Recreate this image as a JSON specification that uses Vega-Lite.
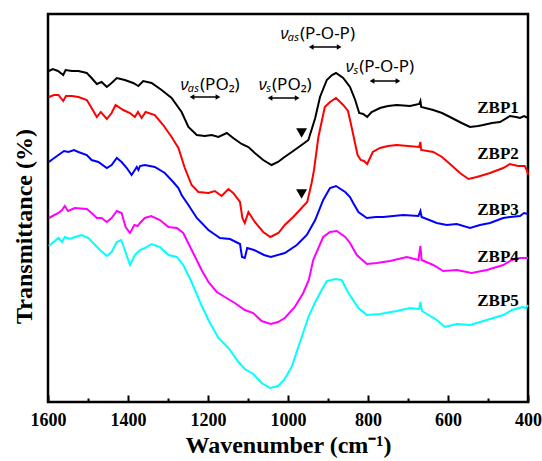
{
  "$schema": "https://vega.github.io/schema/vega-lite/v6.json",
  "width": 480,
  "height": 388,
  "autosize": {"type": "none"},
  "padding": {"left": 48, "top": 14, "right": 14, "bottom": 59},
  "background": "white",
  "config": {
    "view": {"stroke": "black", "strokeWidth": 2.5},
    "axis": {"grid": false, "domain": false}
  },
  "datasets": {
    "spectra": [
      {"s":"ZBP1","w":1598,"v":331},{"s":"ZBP1","w":1588,"v":333},{"s":"ZBP1","w":1575,"v":331},{"s":"ZBP1","w":1562,"v":327},{"s":"ZBP1","w":1556,"v":332},{"s":"ZBP1","w":1540,"v":331},{"s":"ZBP1","w":1524,"v":331},{"s":"ZBP1","w":1503,"v":329},{"s":"ZBP1","w":1491,"v":324},{"s":"ZBP1","w":1478,"v":318},{"s":"ZBP1","w":1466,"v":320},{"s":"ZBP1","w":1453,"v":315},{"s":"ZBP1","w":1441,"v":319},{"s":"ZBP1","w":1428,"v":324},{"s":"ZBP1","w":1408,"v":322},{"s":"ZBP1","w":1387,"v":319},{"s":"ZBP1","w":1374,"v":316},{"s":"ZBP1","w":1362,"v":321},{"s":"ZBP1","w":1341,"v":319},{"s":"ZBP1","w":1316,"v":312},{"s":"ZBP1","w":1291,"v":304},{"s":"ZBP1","w":1266,"v":290},{"s":"ZBP1","w":1249,"v":275},{"s":"ZBP1","w":1228,"v":267},{"s":"ZBP1","w":1208,"v":266},{"s":"ZBP1","w":1191,"v":267},{"s":"ZBP1","w":1174,"v":265},{"s":"ZBP1","w":1153,"v":269},{"s":"ZBP1","w":1137,"v":264},{"s":"ZBP1","w":1116,"v":258},{"s":"ZBP1","w":1099,"v":255},{"s":"ZBP1","w":1083,"v":249},{"s":"ZBP1","w":1062,"v":242},{"s":"ZBP1","w":1041,"v":237},{"s":"ZBP1","w":1025,"v":240},{"s":"ZBP1","w":1012,"v":244},{"s":"ZBP1","w":987,"v":251},{"s":"ZBP1","w":966,"v":257},{"s":"ZBP1","w":949,"v":262},{"s":"ZBP1","w":932,"v":284},{"s":"ZBP1","w":920,"v":305},{"s":"ZBP1","w":903,"v":322},{"s":"ZBP1","w":890,"v":327},{"s":"ZBP1","w":880,"v":329},{"s":"ZBP1","w":862,"v":324},{"s":"ZBP1","w":845,"v":315},{"s":"ZBP1","w":832,"v":302},{"s":"ZBP1","w":822,"v":289},{"s":"ZBP1","w":812,"v":288},{"s":"ZBP1","w":802,"v":285},{"s":"ZBP1","w":791,"v":290},{"s":"ZBP1","w":770,"v":294},{"s":"ZBP1","w":750,"v":296},{"s":"ZBP1","w":728,"v":297},{"s":"ZBP1","w":695,"v":296},{"s":"ZBP1","w":672,"v":298},{"s":"ZBP1","w":669,"v":301},{"s":"ZBP1","w":667,"v":295},{"s":"ZBP1","w":637,"v":292},{"s":"ZBP1","w":615,"v":289},{"s":"ZBP1","w":595,"v":285},{"s":"ZBP1","w":566,"v":279},{"s":"ZBP1","w":545,"v":275},{"s":"ZBP1","w":525,"v":276},{"s":"ZBP1","w":512,"v":277},{"s":"ZBP1","w":490,"v":279},{"s":"ZBP1","w":470,"v":280},{"s":"ZBP1","w":445,"v":286},{"s":"ZBP1","w":430,"v":285},{"s":"ZBP1","w":420,"v":284},{"s":"ZBP1","w":410,"v":286},{"s":"ZBP1","w":400,"v":284},
      {"s":"ZBP2","w":1598,"v":305},{"s":"ZBP2","w":1585,"v":307},{"s":"ZBP2","w":1574,"v":307},{"s":"ZBP2","w":1562,"v":301},{"s":"ZBP2","w":1555,"v":306},{"s":"ZBP2","w":1540,"v":306},{"s":"ZBP2","w":1524,"v":305},{"s":"ZBP2","w":1503,"v":302},{"s":"ZBP2","w":1491,"v":294},{"s":"ZBP2","w":1478,"v":285},{"s":"ZBP2","w":1468,"v":290},{"s":"ZBP2","w":1453,"v":283},{"s":"ZBP2","w":1441,"v":289},{"s":"ZBP2","w":1431,"v":297},{"s":"ZBP2","w":1412,"v":292},{"s":"ZBP2","w":1395,"v":289},{"s":"ZBP2","w":1383,"v":285},{"s":"ZBP2","w":1375,"v":290},{"s":"ZBP2","w":1366,"v":284},{"s":"ZBP2","w":1356,"v":290},{"s":"ZBP2","w":1333,"v":287},{"s":"ZBP2","w":1312,"v":277},{"s":"ZBP2","w":1291,"v":265},{"s":"ZBP2","w":1274,"v":254},{"s":"ZBP2","w":1258,"v":234},{"s":"ZBP2","w":1241,"v":217},{"s":"ZBP2","w":1224,"v":210},{"s":"ZBP2","w":1199,"v":209},{"s":"ZBP2","w":1183,"v":211},{"s":"ZBP2","w":1166,"v":206},{"s":"ZBP2","w":1149,"v":213},{"s":"ZBP2","w":1137,"v":209},{"s":"ZBP2","w":1120,"v":200},{"s":"ZBP2","w":1114,"v":184},{"s":"ZBP2","w":1108,"v":179},{"s":"ZBP2","w":1099,"v":190},{"s":"ZBP2","w":1083,"v":180},{"s":"ZBP2","w":1062,"v":170},{"s":"ZBP2","w":1044,"v":165},{"s":"ZBP2","w":1024,"v":169},{"s":"ZBP2","w":1008,"v":177},{"s":"ZBP2","w":987,"v":185},{"s":"ZBP2","w":966,"v":194},{"s":"ZBP2","w":952,"v":200},{"s":"ZBP2","w":941,"v":219},{"s":"ZBP2","w":935,"v":232},{"s":"ZBP2","w":924,"v":265},{"s":"ZBP2","w":908,"v":295},{"s":"ZBP2","w":895,"v":300},{"s":"ZBP2","w":880,"v":304},{"s":"ZBP2","w":862,"v":297},{"s":"ZBP2","w":850,"v":291},{"s":"ZBP2","w":841,"v":275},{"s":"ZBP2","w":832,"v":258},{"s":"ZBP2","w":826,"v":247},{"s":"ZBP2","w":818,"v":242},{"s":"ZBP2","w":810,"v":241},{"s":"ZBP2","w":802,"v":238},{"s":"ZBP2","w":795,"v":244},{"s":"ZBP2","w":788,"v":250},{"s":"ZBP2","w":770,"v":254},{"s":"ZBP2","w":750,"v":256},{"s":"ZBP2","w":728,"v":257},{"s":"ZBP2","w":700,"v":256},{"s":"ZBP2","w":672,"v":255},{"s":"ZBP2","w":669,"v":260},{"s":"ZBP2","w":667,"v":252},{"s":"ZBP2","w":637,"v":250},{"s":"ZBP2","w":615,"v":245},{"s":"ZBP2","w":595,"v":238},{"s":"ZBP2","w":570,"v":229},{"s":"ZBP2","w":549,"v":223},{"s":"ZBP2","w":528,"v":225},{"s":"ZBP2","w":503,"v":228},{"s":"ZBP2","w":495,"v":229},{"s":"ZBP2","w":462,"v":234},{"s":"ZBP2","w":445,"v":238},{"s":"ZBP2","w":425,"v":236},{"s":"ZBP2","w":408,"v":236},{"s":"ZBP2","w":402,"v":231},{"s":"ZBP2","w":400,"v":227},
      {"s":"ZBP3","w":1598,"v":240},{"s":"ZBP3","w":1574,"v":247},{"s":"ZBP3","w":1560,"v":251},{"s":"ZBP3","w":1549,"v":250},{"s":"ZBP3","w":1535,"v":252},{"s":"ZBP3","w":1524,"v":250},{"s":"ZBP3","w":1503,"v":247},{"s":"ZBP3","w":1491,"v":242},{"s":"ZBP3","w":1474,"v":240},{"s":"ZBP3","w":1453,"v":234},{"s":"ZBP3","w":1441,"v":237},{"s":"ZBP3","w":1428,"v":244},{"s":"ZBP3","w":1416,"v":240},{"s":"ZBP3","w":1403,"v":234},{"s":"ZBP3","w":1391,"v":227},{"s":"ZBP3","w":1378,"v":235},{"s":"ZBP3","w":1374,"v":232},{"s":"ZBP3","w":1370,"v":236},{"s":"ZBP3","w":1358,"v":237},{"s":"ZBP3","w":1333,"v":235},{"s":"ZBP3","w":1308,"v":229},{"s":"ZBP3","w":1287,"v":220},{"s":"ZBP3","w":1274,"v":214},{"s":"ZBP3","w":1266,"v":207},{"s":"ZBP3","w":1249,"v":197},{"s":"ZBP3","w":1228,"v":184},{"s":"ZBP3","w":1199,"v":172},{"s":"ZBP3","w":1170,"v":164},{"s":"ZBP3","w":1145,"v":163},{"s":"ZBP3","w":1120,"v":158},{"s":"ZBP3","w":1115,"v":145},{"s":"ZBP3","w":1108,"v":144},{"s":"ZBP3","w":1102,"v":154},{"s":"ZBP3","w":1085,"v":152},{"s":"ZBP3","w":1060,"v":147},{"s":"ZBP3","w":1043,"v":145},{"s":"ZBP3","w":1008,"v":149},{"s":"ZBP3","w":978,"v":157},{"s":"ZBP3","w":953,"v":167},{"s":"ZBP3","w":932,"v":182},{"s":"ZBP3","w":912,"v":202},{"s":"ZBP3","w":895,"v":214},{"s":"ZBP3","w":880,"v":216},{"s":"ZBP3","w":857,"v":210},{"s":"ZBP3","w":845,"v":205},{"s":"ZBP3","w":837,"v":199},{"s":"ZBP3","w":824,"v":190},{"s":"ZBP3","w":803,"v":184},{"s":"ZBP3","w":780,"v":185},{"s":"ZBP3","w":762,"v":185},{"s":"ZBP3","w":712,"v":187},{"s":"ZBP3","w":674,"v":186},{"s":"ZBP3","w":669,"v":191},{"s":"ZBP3","w":666,"v":185},{"s":"ZBP3","w":628,"v":179},{"s":"ZBP3","w":603,"v":177},{"s":"ZBP3","w":578,"v":178},{"s":"ZBP3","w":545,"v":174},{"s":"ZBP3","w":520,"v":177},{"s":"ZBP3","w":495,"v":179},{"s":"ZBP3","w":462,"v":184},{"s":"ZBP3","w":445,"v":185},{"s":"ZBP3","w":420,"v":186},{"s":"ZBP3","w":410,"v":189},{"s":"ZBP3","w":400,"v":188},
      {"s":"ZBP4","w":1598,"v":184},{"s":"ZBP4","w":1574,"v":189},{"s":"ZBP4","w":1565,"v":192},{"s":"ZBP4","w":1558,"v":196},{"s":"ZBP4","w":1550,"v":191},{"s":"ZBP4","w":1533,"v":194},{"s":"ZBP4","w":1503,"v":193},{"s":"ZBP4","w":1491,"v":189},{"s":"ZBP4","w":1478,"v":184},{"s":"ZBP4","w":1466,"v":184},{"s":"ZBP4","w":1453,"v":180},{"s":"ZBP4","w":1441,"v":184},{"s":"ZBP4","w":1428,"v":191},{"s":"ZBP4","w":1416,"v":189},{"s":"ZBP4","w":1406,"v":175},{"s":"ZBP4","w":1395,"v":169},{"s":"ZBP4","w":1384,"v":177},{"s":"ZBP4","w":1376,"v":176},{"s":"ZBP4","w":1370,"v":179},{"s":"ZBP4","w":1358,"v":184},{"s":"ZBP4","w":1342,"v":186},{"s":"ZBP4","w":1320,"v":182},{"s":"ZBP4","w":1299,"v":175},{"s":"ZBP4","w":1278,"v":174},{"s":"ZBP4","w":1262,"v":169},{"s":"ZBP4","w":1237,"v":149},{"s":"ZBP4","w":1216,"v":132},{"s":"ZBP4","w":1199,"v":120},{"s":"ZBP4","w":1178,"v":110},{"s":"ZBP4","w":1158,"v":105},{"s":"ZBP4","w":1133,"v":99},{"s":"ZBP4","w":1108,"v":92},{"s":"ZBP4","w":1087,"v":89},{"s":"ZBP4","w":1066,"v":81},{"s":"ZBP4","w":1043,"v":78},{"s":"ZBP4","w":1025,"v":80},{"s":"ZBP4","w":1008,"v":84},{"s":"ZBP4","w":983,"v":95},{"s":"ZBP4","w":962,"v":109},{"s":"ZBP4","w":948,"v":122},{"s":"ZBP4","w":937,"v":142},{"s":"ZBP4","w":912,"v":165},{"s":"ZBP4","w":895,"v":170},{"s":"ZBP4","w":878,"v":171},{"s":"ZBP4","w":857,"v":165},{"s":"ZBP4","w":845,"v":159},{"s":"ZBP4","w":828,"v":147},{"s":"ZBP4","w":803,"v":138},{"s":"ZBP4","w":778,"v":139},{"s":"ZBP4","w":745,"v":141},{"s":"ZBP4","w":703,"v":145},{"s":"ZBP4","w":674,"v":142},{"s":"ZBP4","w":669,"v":156},{"s":"ZBP4","w":666,"v":142},{"s":"ZBP4","w":637,"v":137},{"s":"ZBP4","w":612,"v":131},{"s":"ZBP4","w":578,"v":132},{"s":"ZBP4","w":541,"v":129},{"s":"ZBP4","w":503,"v":132},{"s":"ZBP4","w":462,"v":137},{"s":"ZBP4","w":440,"v":142},{"s":"ZBP4","w":420,"v":144},{"s":"ZBP4","w":400,"v":144},
      {"s":"ZBP5","w":1598,"v":156},{"s":"ZBP5","w":1574,"v":164},{"s":"ZBP5","w":1565,"v":160},{"s":"ZBP5","w":1558,"v":165},{"s":"ZBP5","w":1545,"v":163},{"s":"ZBP5","w":1533,"v":165},{"s":"ZBP5","w":1516,"v":167},{"s":"ZBP5","w":1499,"v":164},{"s":"ZBP5","w":1487,"v":159},{"s":"ZBP5","w":1470,"v":152},{"s":"ZBP5","w":1453,"v":146},{"s":"ZBP5","w":1441,"v":150},{"s":"ZBP5","w":1428,"v":160},{"s":"ZBP5","w":1417,"v":162},{"s":"ZBP5","w":1408,"v":152},{"s":"ZBP5","w":1395,"v":137},{"s":"ZBP5","w":1383,"v":147},{"s":"ZBP5","w":1370,"v":152},{"s":"ZBP5","w":1358,"v":154},{"s":"ZBP5","w":1341,"v":158},{"s":"ZBP5","w":1320,"v":155},{"s":"ZBP5","w":1299,"v":147},{"s":"ZBP5","w":1278,"v":145},{"s":"ZBP5","w":1262,"v":137},{"s":"ZBP5","w":1241,"v":120},{"s":"ZBP5","w":1220,"v":100},{"s":"ZBP5","w":1199,"v":82},{"s":"ZBP5","w":1174,"v":64},{"s":"ZBP5","w":1149,"v":54},{"s":"ZBP5","w":1124,"v":40},{"s":"ZBP5","w":1108,"v":33},{"s":"ZBP5","w":1087,"v":28},{"s":"ZBP5","w":1066,"v":19},{"s":"ZBP5","w":1045,"v":14},{"s":"ZBP5","w":1025,"v":16},{"s":"ZBP5","w":1010,"v":22},{"s":"ZBP5","w":991,"v":35},{"s":"ZBP5","w":970,"v":60},{"s":"ZBP5","w":949,"v":85},{"s":"ZBP5","w":933,"v":99},{"s":"ZBP5","w":916,"v":112},{"s":"ZBP5","w":903,"v":121},{"s":"ZBP5","w":882,"v":123},{"s":"ZBP5","w":866,"v":122},{"s":"ZBP5","w":849,"v":109},{"s":"ZBP5","w":824,"v":94},{"s":"ZBP5","w":803,"v":87},{"s":"ZBP5","w":770,"v":88},{"s":"ZBP5","w":728,"v":91},{"s":"ZBP5","w":695,"v":94},{"s":"ZBP5","w":672,"v":93},{"s":"ZBP5","w":669,"v":100},{"s":"ZBP5","w":665,"v":91},{"s":"ZBP5","w":628,"v":82},{"s":"ZBP5","w":608,"v":75},{"s":"ZBP5","w":578,"v":78},{"s":"ZBP5","w":545,"v":77},{"s":"ZBP5","w":503,"v":82},{"s":"ZBP5","w":462,"v":87},{"s":"ZBP5","w":440,"v":92},{"s":"ZBP5","w":415,"v":95},{"s":"ZBP5","w":405,"v":94},{"s":"ZBP5","w":400,"v":97}
    ],
    "labels": [
      {"w": 527, "v": 294, "t": "ZBP1"},
      {"w": 527, "v": 248, "t": "ZBP2"},
      {"w": 527, "v": 192, "t": "ZBP3"},
      {"w": 527, "v": 145, "t": "ZBP4"},
      {"w": 527, "v": 101, "t": "ZBP5"}
    ],
    "ann": [
      {"w": 1220, "v": 317, "a": "νₐₛ", "b": "(PO₂)"},
      {"w": 1040, "v": 317, "a": "νₛ", "b": "(PO₂)"},
      {"w": 970, "v": 368, "a": "νₐₛ", "b": "(P-O-P)"},
      {"w": 822, "v": 335, "a": "νₛ", "b": "(P-O-P)"}
    ],
    "arrows": [
      {"w1": 1240, "w2": 1175, "v": 305},
      {"w1": 1045, "w2": 977, "v": 304},
      {"w1": 942, "w2": 872, "v": 355},
      {"w1": 790, "w2": 725, "v": 321}
    ],
    "marks": [
      {"w": 966, "v": 269},
      {"w": 966, "v": 208}
    ]
  },
  "layer": [
    {
      "data": {"name": "spectra"},
      "mark": {"type": "line", "strokeWidth": 2},
      "encoding": {
        "x": {"field": "w", "type": "quantitative",
          "scale": {"domain": [400, 1600], "reverse": true, "nice": false, "zero": false},
          "axis": {"orient": "bottom", "values": [1600, 1400, 1200, 1000, 800, 600, 400], "format": "d",
            "title": "Wavenumber (cm⁻¹)", "tickSize": -7, "tickWidth": 2, "tickColor": "black",
            "labelFont": "Liberation Serif", "labelFontSize": 18, "labelFontWeight": "bold", "labelColor": "black",
            "labelPadding": 16, "labelFlush": false,
            "titleFont": "Liberation Serif", "titleFontSize": 24, "titleFontWeight": "bold", "titleColor": "black", "titlePadding": 4}},
        "y": {"field": "v", "type": "quantitative",
          "scale": {"domain": [0, 388], "nice": false, "zero": false},
          "axis": {"orient": "left", "title": "Transmittance (%)", "labels": false, "ticks": false,
            "titleFont": "Liberation Serif", "titleFontSize": 24, "titleFontWeight": "bold", "titleColor": "black", "titlePadding": 12, "titleY": 212}},
        "color": {"field": "s", "type": "nominal", "legend": null,
          "scale": {"domain": ["ZBP1", "ZBP2", "ZBP3", "ZBP4", "ZBP5"], "range": ["#000000", "#ff0000", "#0000ff", "#ff00ff", "#00ffff"]}},
        "order": {"field": "w", "type": "quantitative", "sort": "descending"}
      }
    },
    {
      "data": {"name": "labels"},
      "mark": {"type": "text", "align": "left", "baseline": "middle", "font": "Liberation Serif", "fontSize": 17, "fontWeight": "bold", "color": "black"},
      "encoding": {
        "x": {"field": "w", "type": "quantitative",
          "axis": {"orient": "bottom", "values": [1500, 1300, 1100, 900, 700, 500], "labels": false, "title": null, "tickSize": -4, "tickWidth": 2, "tickColor": "black"}},
        "y": {"field": "v", "type": "quantitative", "axis": null},
        "text": {"field": "t"}
      }
    },
    {
      "data": {"name": "arrows"},
      "mark": {"type": "rule", "strokeWidth": 1.5, "color": "black"},
      "encoding": {
        "x": {"field": "w1", "type": "quantitative", "axis": null},
        "x2": {"field": "w2"},
        "y": {"field": "v", "type": "quantitative", "axis": null}
      }
    },
    {
      "data": {"name": "arrows"},
      "transform": [{"fold": ["w1", "w2"], "as": ["end", "we"]}],
      "mark": {"type": "point", "filled": true, "size": 30, "opacity": 1, "color": "black"},
      "encoding": {
        "x": {"field": "we", "type": "quantitative", "axis": null},
        "y": {"field": "v", "type": "quantitative", "axis": null},
        "shape": {"field": "end", "type": "nominal", "legend": null,
          "scale": {"domain": ["w1", "w2"], "range": ["triangle-left", "triangle-right"]}}
      }
    },
    {
      "data": {"name": "ann"},
      "mark": {"type": "text", "align": "right", "baseline": "middle", "font": "Noto Sans", "fontSize": 17, "fontStyle": "italic", "color": "black"},
      "encoding": {
        "x": {"field": "w", "type": "quantitative", "axis": null},
        "y": {"field": "v", "type": "quantitative", "axis": null},
        "text": {"field": "a"}
      }
    },
    {
      "data": {"name": "ann"},
      "mark": {"type": "text", "align": "left", "baseline": "middle", "font": "Noto Sans", "fontSize": 17, "color": "black"},
      "encoding": {
        "x": {"field": "w", "type": "quantitative", "axis": null},
        "y": {"field": "v", "type": "quantitative", "axis": null},
        "text": {"field": "b"}
      }
    },
    {
      "data": {"name": "marks"},
      "mark": {"type": "point", "shape": "triangle-down", "filled": true, "size": 120, "opacity": 1, "color": "black"},
      "encoding": {
        "x": {"field": "w", "type": "quantitative", "axis": null},
        "y": {"field": "v", "type": "quantitative", "axis": null}
      }
    }
  ],
  "resolve": {"axis": {"x": "independent", "y": "independent"}}
}
